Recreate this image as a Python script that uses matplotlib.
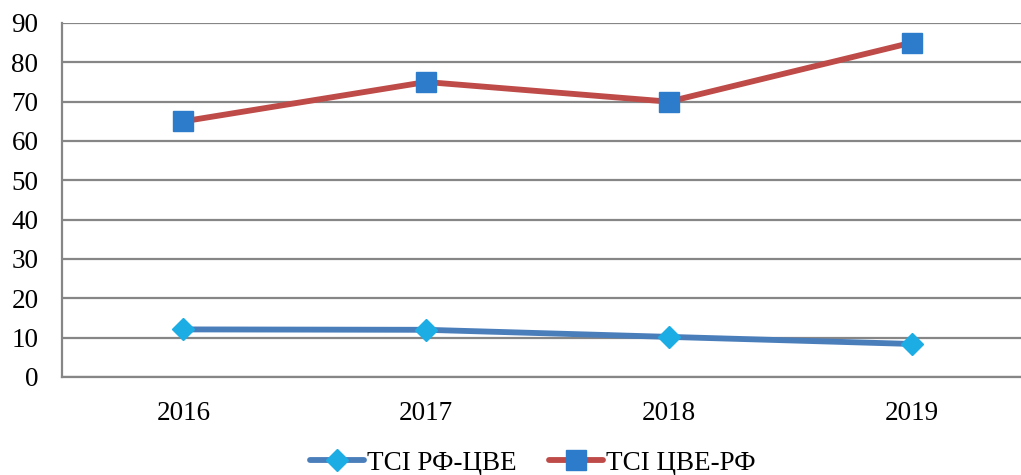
import matplotlib
matplotlib.use('Agg')
from matplotlib import pyplot as plt

years = ['2016', '2017', '2018', '2019']
tsi_rf_cve = [12.1, 12.0, 10.2, 8.4]
tsi_cve_rf = [65, 75, 70, 85]

plt.rcParams['font.family'] = ['Liberation Serif', 'DejaVu Serif']

fig = plt.figure(figsize=(10.21, 4.75), dpi=100)
ax = fig.add_axes([62 / 1021, 1 - 377 / 475, 971 / 1021, 354 / 475])

x = range(len(years))
ax.plot(x, tsi_rf_cve, color='#4A7EBB', lw=4.2, marker='D', ms=11,
        mfc='#1CADE4', mec='#1CADE4', label='TCI РФ-ЦВЕ', solid_capstyle='round')
ax.plot(x, tsi_cve_rf, color='#BE4B48', lw=4.2, marker='s', ms=14,
        mfc='#2C7CCB', mec='#2C7CCB', label='TCI ЦВЕ-РФ', solid_capstyle='round')

ax.set_xlim(-0.5, 3.5)
ax.set_ylim(0, 90)
ax.set_yticks(range(0, 91, 10))
ax.set_xticks(list(x))
ax.set_xticklabels(years)
ax.tick_params(axis='both', length=0, labelsize=19.5, colors='black')
ax.tick_params(axis='x', pad=17)
ax.tick_params(axis='y', pad=17)
ax.grid(axis='y', color='#868686', lw=1.6)
ax.set_axisbelow(True)
for s in ['top', 'right']:
    ax.spines[s].set_visible(False)
for s in ['left', 'bottom']:
    ax.spines[s].set_color('#868686')
    ax.spines[s].set_linewidth(1.6)

fig.legend(loc='center', bbox_to_anchor=(533 / 1021, 1 - 463 / 475), ncol=2,
           frameon=False, fontsize=19.5, handlelength=2.0, columnspacing=1.2,
           handletextpad=0.1)

plt.savefig('out.png', dpi=100)
